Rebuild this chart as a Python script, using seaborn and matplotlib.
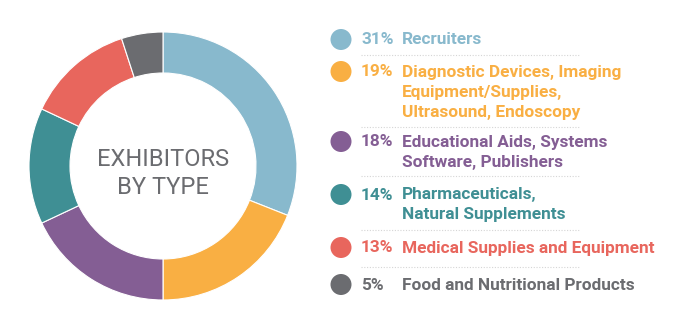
import matplotlib
matplotlib.use("Agg")
import matplotlib.pyplot as plt
from matplotlib.patches import Circle
import seaborn as sns

# Exhibitor mix, in percent
categories = [
    "Recruiters",
    "Diagnostic Devices, Imaging\nEquipment/Supplies,\nUltrasound, Endoscopy",
    "Educational Aids, Systems\nSoftware, Publishers",
    "Pharmaceuticals,\nNatural Supplements",
    "Medical Supplies and Equipment",
    "Food and Nutritional Products",
]
shares = [31, 19, 18, 14, 13, 5]
palette = ["#88B9CD", "#F9AF43", "#845E94", "#3F8F94", "#E8665D", "#6B6C70"]

sns.set_theme(style="white")
plt.rcParams["font.family"] = ["Roboto", "DejaVu Sans"]

W, H = 680, 332
fig = plt.figure(figsize=(W / 100, H / 100), dpi=100)
ax = fig.add_axes([0, 0, 1, 1])

# Donut
cx, cy, r_out, ring = 163, H - 166, 134, 41
ax.pie(shares, colors=palette, startangle=90, counterclock=False,
       center=(cx, cy), radius=r_out, frame=True,
       wedgeprops=dict(width=ring, edgecolor="white", linewidth=0.8))
ax.set_xlim(0, W)
ax.set_ylim(0, H)
ax.set_aspect("equal")
ax.axis("off")
for txt, yc in [("EXHIBITORS", 157.5), ("BY TYPE", 185)]:
    ax.text(cx, H - yc, txt, ha="center", va="center_baseline",
            fontsize=17, fontweight="normal", color="#6B6C70")

# Legend rows
row_tops = [40, 72, 142, 195, 248, 285]
separators = [55, 127, 176, 230, 267]
line_step = 20
for share, label, color, yt in zip(shares, categories, palette, row_tops):
    y = H - yt
    ax.add_patch(Circle((341, y + 0.5), 10.5, color=color, lw=0))
    ax.text(361, y, f"{share}%", ha="left", va="center", fontsize=12.4,
            fontweight="bold", color=color)
    for i, part in enumerate(label.split("\n")):
        ax.text(401.5, y - i * line_step, part, ha="left", va="center",
                fontsize=12.4, fontweight="bold", color=color)

for ys in separators:
    ax.plot([361, 580], [H - ys, H - ys], color="#D5D5D5", lw=0.8,
            linestyle=(0, (1, 1.5)))

fig.savefig("out.png", dpi=100, facecolor="white")
